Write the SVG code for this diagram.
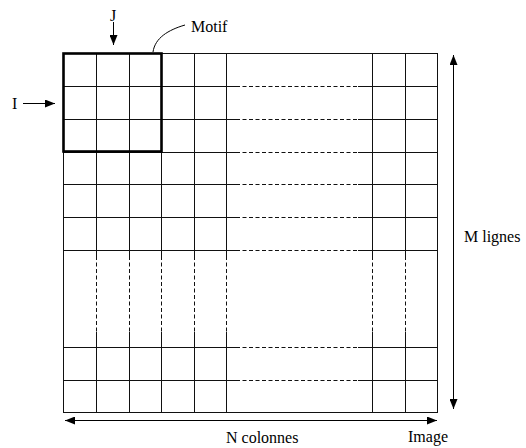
<svg xmlns="http://www.w3.org/2000/svg" width="526" height="448" viewBox="0 0 526 448">
  <defs>
    <marker id="head" viewBox="0 0 10 8" refX="10" refY="4" markerWidth="10" markerHeight="8" markerUnits="userSpaceOnUse" orient="auto-start-reverse">
      <path d="M0,0 L10,4 L0,8 Z" fill="#000"/>
    </marker>
    <style>
      .grid { stroke: #111; stroke-width: 1; fill: none; }
      .dash { stroke: #111; stroke-width: 1; fill: none; stroke-dasharray: 4 2.5; }
      .motif { stroke: #000; stroke-width: 2.6; fill: none; }
      .arrow { stroke: #000; stroke-width: 1; fill: none; }
      .lbl { font-size: 16px; fill: #000; }
    </style>
  </defs>
  <rect width="526" height="448" fill="#fff"/>

  <!-- image grid: N columns x M rows, middle part elided with dashes -->
  <g id="image">
    <!-- outer border -->
    <rect class="grid" x="63.5" y="53.5" width="374" height="359"/>
    <!-- horizontal row lines: solid ends, dashed middle -->
    <g id="rows">
      <path class="grid" d="M63.5,86.5H236 M358,86.5H437.5 M63.5,119.5H236 M358,119.5H437.5 M63.5,152.5H236 M358,152.5H437.5 M63.5,184.5H236 M358,184.5H437.5 M63.5,217.5H236 M358,217.5H437.5 M63.5,250.5H236 M358,250.5H437.5 M63.5,347.5H236 M358,347.5H437.5 M63.5,380.5H236 M358,380.5H437.5"/>
      <path class="dash" d="M236,86.5H358 M236,119.5H358 M236,152.5H358 M236,184.5H358 M236,217.5H358 M236,250.5H358 M236,347.5H358 M236,380.5H358"/>
    </g>
    <!-- vertical column lines: solid ends, dashed middle -->
    <g id="cols">
      <path class="grid" d="M96.5,53.5V256 M96.5,332V412.5 M129.5,53.5V256 M129.5,332V412.5 M161.5,53.5V256 M161.5,332V412.5 M194.5,53.5V256 M194.5,332V412.5 M226.5,53.5V256 M226.5,332V412.5 M372.5,53.5V256 M372.5,332V412.5 M405.5,53.5V256 M405.5,332V412.5"/>
      <path class="dash" d="M96.5,256V332 M129.5,256V332 M161.5,256V332 M194.5,256V332 M226.5,256V332 M372.5,256V332 M405.5,256V332"/>
    </g>
  </g>

  <!-- 3x3 motif window -->
  <g id="motif">
    <rect class="motif" x="63.5" y="53.5" width="98" height="98"/>
  </g>

  <!-- labels -->
  <g id="labels" font-family="'Liberation Serif', 'Times New Roman', Times, 'DejaVu Serif', serif">
    <text class="lbl" x="110" y="21">J</text>
    <text class="lbl" x="12" y="109">I</text>
    <text class="lbl" x="191" y="32">Motif</text>
    <text class="lbl" x="464" y="242">M lignes</text>
    <text class="lbl" x="226" y="443">N colonnes</text>
    <text class="lbl" x="408" y="442">Image</text>
  </g>

  <!-- connectors -->
  <g id="connectors">
    <path class="arrow" d="M113.5,22V45" marker-end="url(#head)"/>
    <path class="arrow" d="M23,103.5H55" marker-end="url(#head)"/>
    <path class="arrow" d="M153,52C155,38 168,30 185,25"/>
    <path class="arrow" d="M453.5,409V55" marker-start="url(#head)" marker-end="url(#head)"/>
    <path class="arrow" d="M65,420.5H437" marker-start="url(#head)" marker-end="url(#head)"/>
  </g>
</svg>
